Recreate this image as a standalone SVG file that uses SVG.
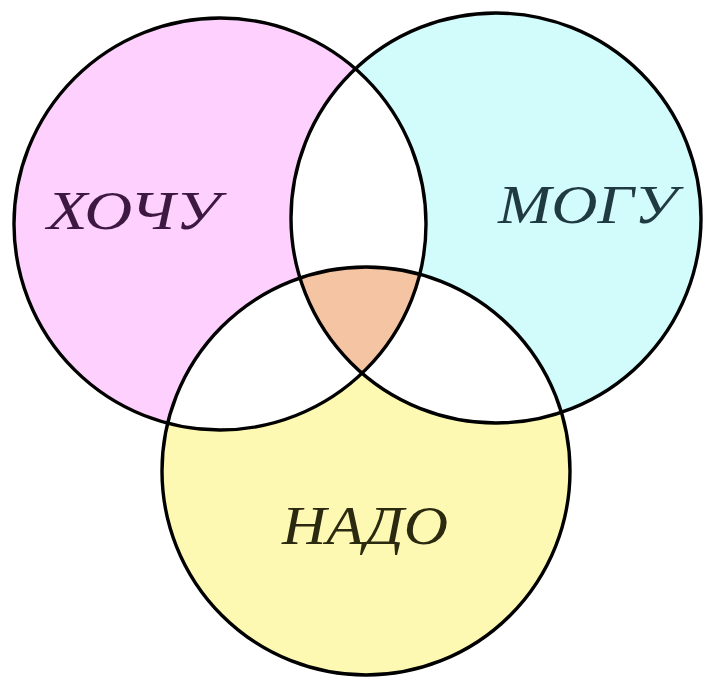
<svg xmlns="http://www.w3.org/2000/svg" width="704" height="677" viewBox="0 0 704 677">
<style>
.edge{fill:none;stroke:#000;stroke-width:3.4}
.lbl{font-family:"Liberation Serif","DejaVu Serif",serif;font-style:italic;font-size:55px}
</style>
<defs>
<clipPath id="cA"><circle cx="220" cy="224" r="206"/></clipPath>
<clipPath id="cB"><circle cx="496" cy="218" r="205"/></clipPath>
<clipPath id="cC"><circle cx="366" cy="471" r="204"/></clipPath>
</defs>
<rect width="704" height="677" fill="#fff"/>
<g id="hochu">
<circle cx="220" cy="224" r="206" fill="#fdd0fd"/>
</g>
<g id="mogu">
<circle cx="496" cy="218" r="205" fill="#d2fbfc"/>
</g>
<g id="nado">
<circle cx="366" cy="471" r="204" fill="#fdf9b2"/>
</g>
<g id="overlaps">
<g clip-path="url(#cA)"><circle cx="496" cy="218" r="205" fill="#fff"/><circle cx="366" cy="471" r="204" fill="#fff"/></g>
<g clip-path="url(#cB)"><circle cx="366" cy="471" r="204" fill="#fff"/></g>
<g clip-path="url(#cA)"><g clip-path="url(#cB)"><circle cx="366" cy="471" r="204" fill="#f5c4a2"/></g></g>
</g>
<g id="connectors"></g>
<g id="outlines">
<circle class="edge" cx="220" cy="224" r="206"/>
<circle class="edge" cx="496" cy="218" r="205"/>
<circle class="edge" cx="366" cy="471" r="204"/>
</g>
<g id="labels">
<text class="lbl" x="47" y="229" fill="#3d1840" textLength="173" lengthAdjust="spacingAndGlyphs">ХОЧУ</text>
<text class="lbl" x="498" y="223" fill="#1f3a40" textLength="179" lengthAdjust="spacingAndGlyphs">МОГУ</text>
<text class="lbl" x="282" y="544" fill="#2b2a10" textLength="166" lengthAdjust="spacingAndGlyphs">НАДО</text>
</g>
</svg>
